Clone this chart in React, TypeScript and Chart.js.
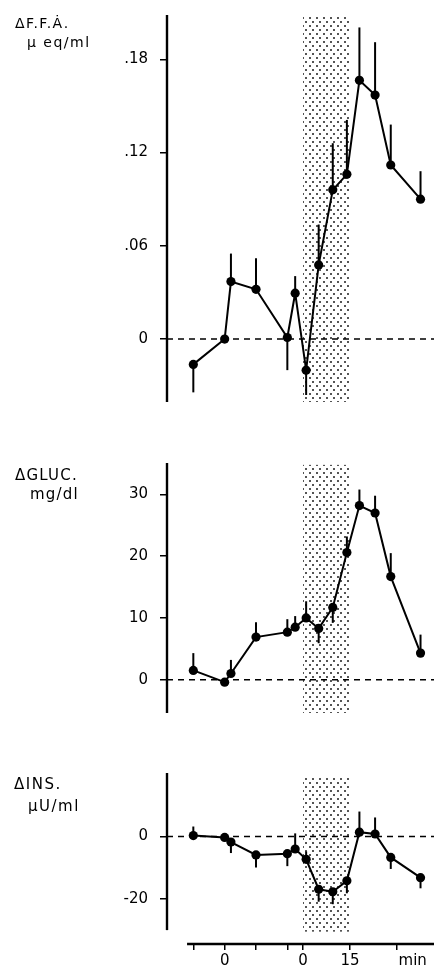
import React, { useEffect, useRef } from "react";
import { Chart, registerables } from "chart.js";
Chart.register(...registerables);

// Time positions (min) on the broken time axis: pre-period shifted by -25, test period 0..40
const times = [-35, -25, -23, -15, -5, -2.5, 1, 5, 9.5, 14, 18, 23, 28, 37.5];

const ffaValues = [-0.0163, 0, 0.037, 0.032, 0.001, 0.0295, -0.02, 0.0477, 0.096, 0.106, 0.1665, 0.157, 0.112, 0.09];
const ffaErrors = [-0.018, 0, 0.018, 0.02, -0.021, 0.011, -0.016, 0.026, 0.03, 0.035, 0.034, 0.034, 0.026, 0.018];

const glucValues = [1.5, -0.4, 1.0, 6.9, 7.7, 8.5, 10.0, 8.3, 11.7, 20.6, 28.2, 27.0, 16.7, 4.3];
const glucErrors = [2.8, 0, 2.2, 2.4, 2.1, 1.8, 2.7, -2.4, -2.5, 2.6, 2.6, 2.8, 3.8, 3.0];

const insValues = [0.3, -0.3, -1.8, -5.9, -5.5, -4.0, -7.3, -16.9, -17.7, -14.2, 1.4, 0.8, -6.7, -13.2];
const insErrors = [2.9, 0, -3.5, -4.0, -4.0, 5.0, 2.5, -4.0, -4.0, -4.0, 6.6, 5.3, -3.7, -3.4];

const ffaTicks = [0, 0.06, 0.12, 0.18];
const ffaTickLabels = ["0", ".06", ".12", ".18"];
const glucTicks = [0, 10, 20, 30];
const glucTickLabels = ["0", "10", "20", "30"];
const insTicks = [0, -20];
const insTickLabels = ["0", "-20"];

const xTicks = [-35, -25, -15, -5, 0, 15, 30, 35];
const xTickLabels = ["", "0", "", "", "0", "15", "", "min"];

const shadeStart = 0;
const shadeEnd = 15;

const ffaTitle = ["\u0394F.F.\u0226.", "\u03bc eq/ml"];
const glucTitle = ["\u0394GLUC.", "mg/dl"];
const insTitle = ["\u0394INS.", "\u03bcU/ml"];

const FONT = "'DejaVu Sans', 'Liberation Sans', sans-serif";

type Panel = {
  key: string;
  top: number;
  height: number;
  padTop: number;
  padBottom: number;
  values: number[];
  errors: number[];
  ticks: number[];
  tickLabels: string[];
  yMin: number;
  yMax: number;
  axisTop: number;
  axisBottom: number;
  shadeTop: number;
  shadeBottom: number;
  title: string[];
  titlePos: [number, number, number, number];
  titleSize: number;
  titleSpacing: number;
  showX: boolean;
};

const panels: Panel[] = [
  {
    key: "ffa", top: 0, height: 410, padTop: 15, padBottom: 8,
    values: ffaValues, errors: ffaErrors, ticks: ffaTicks, tickLabels: ffaTickLabels,
    yMin: -0.0405, yMax: 0.2085, axisTop: 0.2085, axisBottom: -0.0405,
    shadeTop: 0.2075, shadeBottom: -0.0405,
    title: ffaTitle, titlePos: [15, 28, 27, 47], titleSize: 14, titleSpacing: 1.5, showX: false,
  },
  {
    key: "gluc", top: 455, height: 270, padTop: 8, padBottom: 12,
    values: glucValues, errors: glucErrors, ticks: glucTicks, tickLabels: glucTickLabels,
    yMin: -5.4, yMax: 35.1, axisTop: 35.1, axisBottom: -5.4,
    shadeTop: 34.8, shadeBottom: -5.4,
    title: glucTitle, titlePos: [15, 25, 30, 44], titleSize: 15, titleSpacing: 1.2, showX: false,
  },
  {
    key: "ins", top: 765, height: 202, padTop: 8, padBottom: 0,
    values: insValues, errors: insErrors, ticks: insTicks, tickLabels: insTickLabels,
    yMin: -34.45, yMax: 20.35, axisTop: 20.35, axisBottom: -30,
    shadeTop: 18.9, shadeBottom: -30.5,
    title: insTitle, titlePos: [14, 24, 28, 46], titleSize: 15, titleSpacing: 1.5, showX: true,
  },
];

function makePattern(ctx: CanvasRenderingContext2D) {
  const tile = document.createElement("canvas");
  tile.width = 7;
  tile.height = 8;
  const t = tile.getContext("2d")!;
  t.fillStyle = "#555";
  t.fillRect(1, 1, 2, 2);
  t.fillRect(4, 5, 2, 2);
  return ctx.createPattern(tile, "repeat");
}

function buildChart(canvas: HTMLCanvasElement, p: Panel) {
  const ctx0 = canvas.getContext("2d")!;
  const pattern = makePattern(ctx0);
  const plugin = {
    id: "decor_" + p.key,
    beforeDatasetsDraw(chart: any) {
      const { ctx, chartArea, scales } = chart;
      const x = scales.x, y = scales.y;
      ctx.save();
      const x0 = Math.round(x.getPixelForValue(shadeStart));
      const x1 = Math.round(x.getPixelForValue(shadeEnd));
      const yt = Math.max(chartArea.top, y.getPixelForValue(p.shadeTop));
      const yb = Math.min(chartArea.bottom, y.getPixelForValue(p.shadeBottom));
      ctx.fillStyle = pattern as any;
      ctx.fillRect(x0, yt, x1 - x0, yb - yt);
      ctx.strokeStyle = "#000";
      ctx.lineWidth = 1.5;
      ctx.setLineDash([6, 5]);
      const y0 = y.getPixelForValue(0);
      ctx.beginPath();
      ctx.moveTo(chartArea.left, y0);
      ctx.lineTo(chartArea.right, y0);
      ctx.stroke();
      ctx.setLineDash([]);
      ctx.lineWidth = 2.4;
      ctx.beginPath();
      ctx.moveTo(chartArea.left, y.getPixelForValue(p.axisTop));
      ctx.lineTo(chartArea.left, y.getPixelForValue(p.axisBottom));
      ctx.stroke();
      ctx.restore();
    },
    afterDatasetsDraw(chart: any) {
      const { ctx, scales } = chart;
      const x = scales.x, y = scales.y;
      ctx.save();
      ctx.strokeStyle = "#000";
      ctx.lineWidth = 2;
      times.forEach((t, i) => {
        const e = p.errors[i];
        if (!e) return;
        const px = x.getPixelForValue(t);
        ctx.beginPath();
        ctx.moveTo(px, y.getPixelForValue(p.values[i]));
        ctx.lineTo(px, y.getPixelForValue(p.values[i] + e));
        ctx.stroke();
      });
      ctx.restore();
    },
    afterDraw(chart: any) {
      const { ctx, chartArea, scales } = chart;
      ctx.save();
      ctx.fillStyle = "#000";
      ctx.font = `${p.titleSize}px ${FONT}`;
      (ctx as any).letterSpacing = `${p.titleSpacing}px`;
      ctx.textBaseline = "alphabetic";
      ctx.textAlign = "left";
      ctx.fillText(p.title[0], p.titlePos[0], p.titlePos[1]);
      ctx.fillText(p.title[1], p.titlePos[2], p.titlePos[3]);
      (ctx as any).letterSpacing = "0px";
      if (p.showX) {
        ctx.strokeStyle = "#000";
        ctx.lineWidth = 2.5;
        ctx.beginPath();
        ctx.moveTo(scales.x.getPixelForValue(-37), chartArea.bottom);
        ctx.lineTo(chartArea.right, chartArea.bottom);
        ctx.stroke();
      }
      ctx.restore();
    },
  };

  return new Chart(canvas, {
    type: "line",
    data: {
      datasets: [
        {
          data: times.map((t, i) => ({ x: t, y: p.values[i] })),
          borderColor: "#000",
          borderWidth: 2,
          pointRadius: 4.6,
          pointBackgroundColor: "#000",
          pointBorderWidth: 0,
          tension: 0,
          fill: false,
          clip: false,
        },
      ],
    },
    options: {
      responsive: false,
      animation: false,
      devicePixelRatio: 1,
      layout: { autoPadding: false, padding: { top: p.padTop, bottom: p.padBottom, left: 0, right: 0 } },
      plugins: { legend: { display: false }, tooltip: { enabled: false } },
      scales: {
        x: {
          type: "linear",
          min: -43.4,
          max: 41.8,
          display: p.showX,
          border: { display: false },
          grid: {
            drawOnChartArea: false,
            drawTicks: true,
            tickLength: 6,
            lineWidth: 1.5,
            color: (c: any) => (xTickLabels[c.index] === "min" ? "rgba(0,0,0,0)" : "#000"),
          },
          afterBuildTicks: (scale: any) => {
            scale.ticks = xTicks.map((v) => ({ value: v }));
          },
          afterFit: (scale: any) => {
            if (p.showX) scale.height = 23;
            scale.paddingLeft = 0;
            scale.paddingRight = 0;
            scale.paddingTop = 0;
            scale.paddingBottom = 0;
          },
          ticks: {
            autoSkip: false,
            maxRotation: 0,
            padding: 2,
            color: "#000",
            font: { family: FONT, size: 15 },
            callback: (_v: any, i: number) => xTickLabels[i],
          },
        },
        y: {
          type: "linear",
          min: p.yMin,
          max: p.yMax,
          border: { display: false },
          grid: { drawOnChartArea: false, drawTicks: true, tickLength: 7, color: "#000", lineWidth: 1.5 },
          afterBuildTicks: (scale: any) => {
            scale.ticks = p.ticks.map((v) => ({ value: v }));
          },
          afterFit: (scale: any) => {
            scale.width = 167;
            scale.paddingLeft = 0;
            scale.paddingRight = 0;
            scale.paddingTop = 0;
            scale.paddingBottom = 0;
          },
          ticks: {
            padding: 12,
            color: "#000",
            font: { family: FONT, size: 15 },
            callback: (_v: any, i: number) => p.tickLabels[i],
          },
        },
      },
    },
    plugins: [plugin],
  } as any);
}

export default function App() {
  const refs = [useRef<HTMLCanvasElement>(null), useRef<HTMLCanvasElement>(null), useRef<HTMLCanvasElement>(null)];
  useEffect(() => {
    const charts = panels.map((p, i) => buildChart(refs[i].current!, p));
    return () => charts.forEach((c) => c.destroy());
  }, []);
  return (
    <div style={{ position: "absolute", left: 0, top: 0, width: 434, height: 967, background: "#fff", overflow: "hidden" }}>
      {panels.map((p, i) => (
        <canvas
          key={p.key}
          ref={refs[i]}
          width={434}
          height={p.height}
          style={{ position: "absolute", left: 0, top: p.top, width: 434, height: p.height }}
        />
      ))}
    </div>
  );
}
